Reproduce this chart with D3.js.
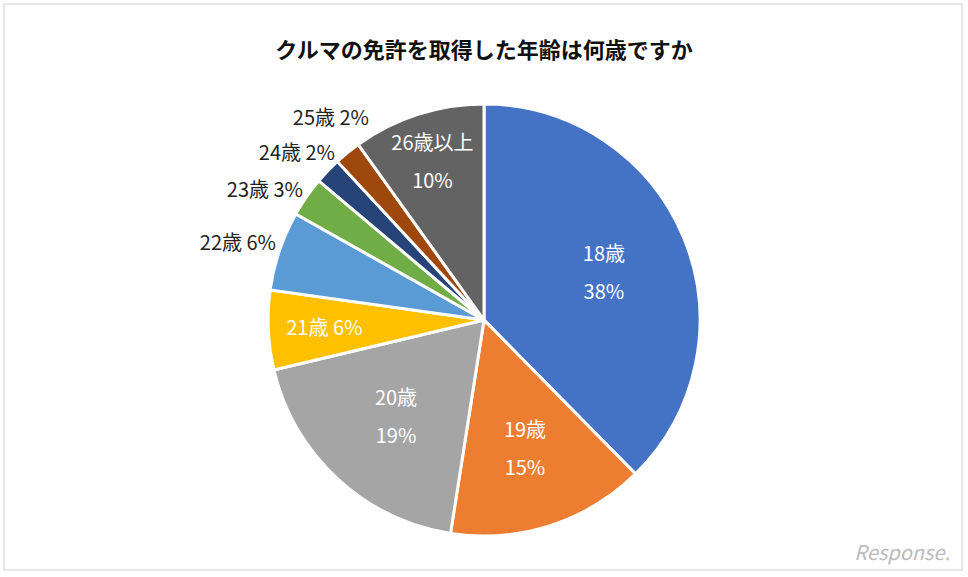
<!DOCTYPE html>
<html><head><meta charset="utf-8">
<script src="https://cdn.jsdelivr.net/npm/d3@7"></script>
<style>body{margin:0;background:#fff}text{font-family:"Noto Sans CJK JP","Noto Sans",sans-serif}</style>
</head><body>
<svg id="chart" width="968" height="577"></svg>
<script>
var categories = ["18歳", "19歳", "20歳", "21歳", "22歳", "23歳", "24歳", "25歳", "26歳以上"];
var values = [38, 15, 19, 6, 6, 3, 2, 2, 10];
var colors = ["#4472C4", "#ED7D31", "#A5A5A5", "#FFC000", "#5B9BD5", "#70AD47", "#264478", "#9E480E", "#636363"];
var inside = [true, true, true, true, false, false, false, false, true];
var twoLine = [true, true, true, false, false, false, false, false, true];
// label radius factors (inside) and outside label anchor points
var inR = [0.6, 0.62, 0.6, 0.74, 0, 0, 0, 0, 0.78];
var outPos = {4: [276, 250], 5: [303, 197], 6: [335, 160], 7: [369, 125]};

var svg = d3.select("#chart");
svg.append("rect").attr("x", 4).attr("y", 4).attr("width", 958).attr("height", 566)
	.attr("fill", "#fff").attr("stroke", "#d0d0d0");

svg.append("text").attr("x", 484).attr("y", 58).attr("text-anchor", "middle")
	.attr("font-size", 22).attr("font-weight", "bold").attr("fill", "#111")
	.text("クルマの免許を取得した年齢は何歳ですか");

var cx = 484, cy = 320, r = 216;
var data = categories.map(function(c, i) { return {name: c, value: values[i], i: i}; });
var pie = d3.pie().sort(null).value(function(d) { return d.value; });
var arc = d3.arc().innerRadius(0).outerRadius(r);
var g = svg.append("g").attr("transform", "translate(" + cx + "," + cy + ")");
var arcs = pie(data);

g.selectAll("path").data(arcs).enter().append("path")
	.attr("d", arc)
	.attr("fill", function(d) { return colors[d.data.i]; })
	.attr("stroke", "#fff").attr("stroke-width", 3);

arcs.forEach(function(d) {
	var i = d.data.i;
	var label = d.data.name, pct = d.data.value + "%";
	if (inside[i]) {
		var p = d3.arc().innerRadius(r * inR[i]).outerRadius(r * inR[i]).centroid(d);
		var t = g.append("text").attr("text-anchor", "middle").attr("font-size", 20).attr("fill", "#fff");
		if (twoLine[i]) {
			t.append("tspan").attr("x", p[0]).attr("y", p[1] - 10).text(label);
			t.append("tspan").attr("x", p[0]).attr("y", p[1] + 28).text(pct);
		} else {
			t.attr("x", p[0]).attr("y", p[1] + 8).text(label + " " + pct);
		}
	} else {
		svg.append("text").attr("x", outPos[i][0]).attr("y", outPos[i][1]).attr("text-anchor", "end")
			.attr("font-size", 20).attr("fill", "#222").text(label + " " + pct);
	}
});

svg.append("text").attr("x", 950).attr("y", 560).attr("text-anchor", "end")
	.attr("font-size", 20).attr("font-style", "italic").attr("fill", "#bbb")
	.text("Response.");
</script>
</body></html>
